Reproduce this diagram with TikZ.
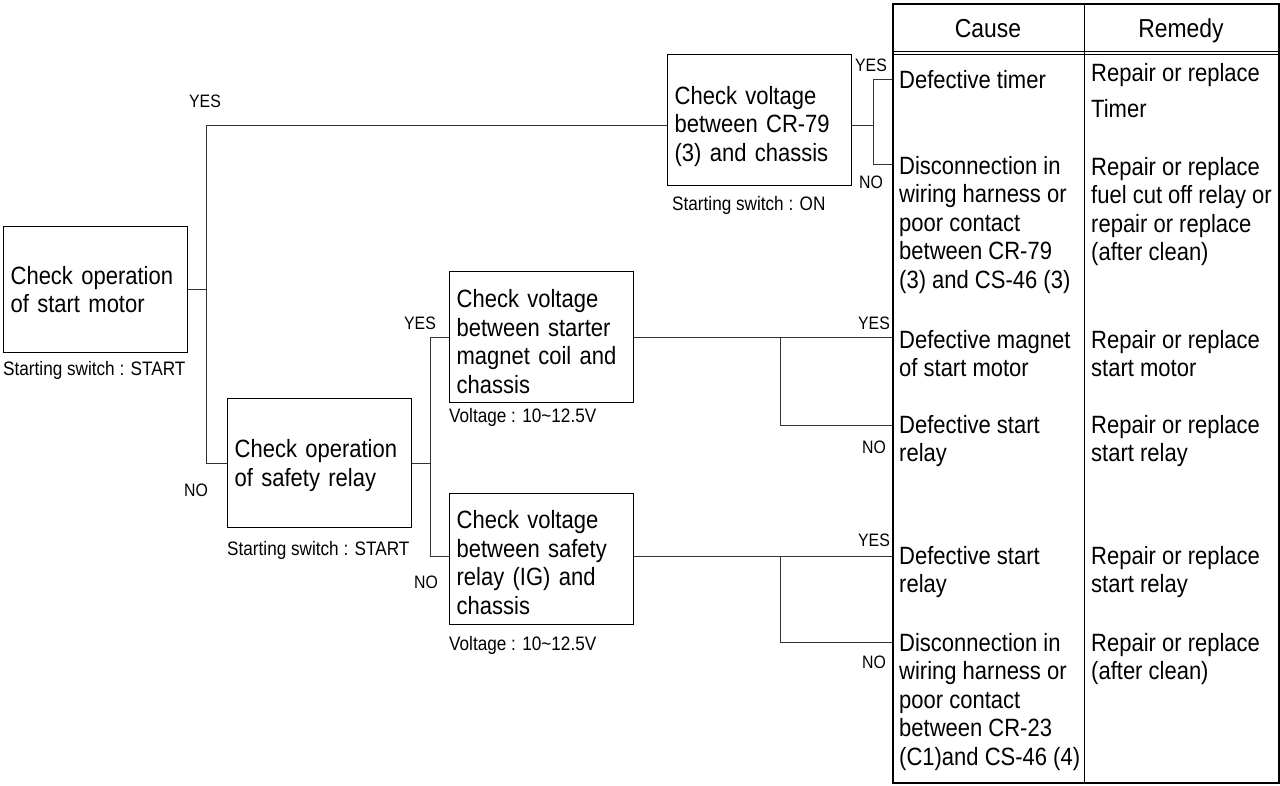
\documentclass[tikz,border=0pt]{standalone}
\usepackage{fontspec}
\setmainfont{Liberation Sans}[FakeStretch=0.88]
\newcommand\btxt{\fontsize{25}{28.5}\selectfont}
\newcommand\stxt{\fontsize{19.5}{22}\selectfont}
\newcommand\yntxt{\fontsize{18}{20}\selectfont}
\newcommand\htxt{\fontsize{26}{30}\selectfont}
\begin{document}
\begin{tikzpicture}[x=1pt,y=-1pt,
  box/.style={draw=black,line width=1.3pt,text width=170pt,inner xsep=7pt,inner ysep=0pt,minimum height=131pt,align=left,font=\btxt,anchor=north west},
  toppad/.style={execute at begin node={\rule{0pt}{#1}}},
  wire/.style={draw=black!80,line width=1pt},
  lbl/.style={font=\stxt,inner sep=0pt,anchor=west},
  yn/.style={font=\yntxt,inner sep=0pt},
  cell/.style={font=\btxt,inner sep=0pt,anchor=base west,align=left},
  head/.style={font=\htxt,inner sep=0pt,anchor=base},
  tblbox/.style={draw=black,line width=2pt,inner sep=0pt,minimum width=386pt,minimum height=779pt,anchor=north west},
  rule/.style={draw=black,line width=1pt}
]
\useasboundingbox (0,0) rectangle (1280,785);
\fill[white] (0,0) rectangle (1280,785);

% table
\node[tblbox] (tbl) at (892,3) {};
\coordinate (dvt) at (1084,3);
\coordinate (dvb) at (1084,782);
\draw[rule] (dvt) -- (dvb);
\coordinate (h1a) at (892,51); \coordinate (h1b) at (1278,51);
\coordinate (h2a) at (892,54); \coordinate (h2b) at (1278,54);
\draw[rule] (h1a) -- (h1b);
\draw[rule] (h2a) -- (h2b);
\node[head] (hc) at (988,37) {Cause};
\node[head] (hr) at (1181,37) {Remedy};

% cause column (base anchor = baseline of last line)
\node[cell] (c1) at (899,88) {Defective timer};
\node[cell] (c2) at (899,288) {Disconnection in\\wiring harness or\\poor contact\\between CR-79\\(3) and CS-46 (3)};
\node[cell] (c3) at (899,376.5) {Defective magnet\\of start motor};
\node[cell] (c4) at (899,461.5) {Defective start\\relay};
\node[cell] (c5) at (899,592.5) {Defective start\\relay};
\node[cell] (c6) at (899,765) {Disconnection in\\wiring harness or\\poor contact\\between CR-23\\(C1)and CS-46 (4)};

% remedy column
\node[cell] (r1) at (1091,117.5) {Repair or replace\\[8pt]Timer};
\node[cell] (r2) at (1091,260.5) {Repair or replace\\fuel cut off relay or\\repair or replace\\(after clean)};
\node[cell] (r3) at (1091,376.5) {Repair or replace\\start motor};
\node[cell] (r4) at (1091,461.5) {Repair or replace\\start relay};
\node[cell] (r5) at (1091,592.5) {Repair or replace\\start relay};
\node[cell] (r6) at (1091,679.5) {Repair or replace\\(after clean)};

% check boxes
\node[box,minimum height=126pt] (sm) at (3,226) {Check operation\\of start motor};
\node[box,minimum height=129pt,toppad=23pt] (sr) at (227,398) {Check operation\\of safety relay};
\node[box,toppad=30.5pt] (cr) at (667,54) {Check voltage\\between CR-79\\(3) and chassis};
\node[box,toppad=26.5pt] (st) at (449,271) {Check voltage\\between starter\\magnet coil and\\chassis};
\node[box,toppad=24.5pt] (ig) at (449,493) {Check voltage\\between safety\\relay (IG) and\\chassis};

% conditions
\node[lbl] (l1) at (3,370) {Starting switch : START};
\node[lbl] (l2) at (227,550) {Starting switch : START};
\node[lbl] (l3) at (672,205) {Starting switch : ON};
\node[lbl] (l4) at (449,417) {Voltage : 10\textasciitilde12.5V};
\node[lbl] (l5) at (449,645) {Voltage : 10\textasciitilde12.5V};

% junctions
\coordinate (j1t) at (206,125);
\coordinate (j1b) at (206,463);
\coordinate (j2t) at (873,79);
\coordinate (j2b) at (873,164);
\coordinate (j3t) at (430,337);
\coordinate (j3b) at (430,556);
\coordinate (j4t) at (780,337);
\coordinate (j4b) at (780,425);
\coordinate (j5t) at (780,556);
\coordinate (j5b) at (780,642);

% connectors
\draw[wire] (sm.east) -- (sm.east -| j1t);
\draw[wire] (cr.west |- j1t) -- (j1t) -- (j1b) -- (sr.west |- j1b);
\draw[wire] (cr.east |- j1t) -- (j1t -| j2t);
\draw[wire] (j2t -| tbl.west) -- (j2t) -- (j2b) -- (j2b -| tbl.west);
\draw[wire] (sr.east |- j1b) -- (j1b -| j3t);
\draw[wire] (st.west |- j3t) -- (j3t) -- (j3b) -- (ig.west |- j3b);
\draw[wire] (st.east |- j3t) -- (j3t -| tbl.west);
\draw[wire] (j4t) -- (j4b) -- (j4b -| tbl.west);
\draw[wire] (ig.east |- j3b) -- (j3b -| tbl.west);
\draw[wire] (j5t) -- (j5b) -- (j5b -| tbl.west);

% yes/no labels
\node[yn] (y1) at (205,101) {YES};
\node[yn] (n1) at (196,490) {NO};
\node[yn] (y2) at (871,65) {YES};
\node[yn] (n2) at (871,182) {NO};
\node[yn] (y3) at (420,323) {YES};
\node[yn] (n3) at (426,582) {NO};
\node[yn] (y4) at (874,323) {YES};
\node[yn] (n4) at (874,447) {NO};
\node[yn] (y5) at (874,540) {YES};
\node[yn] (n5) at (874,662) {NO};
\end{tikzpicture}
\end{document}
